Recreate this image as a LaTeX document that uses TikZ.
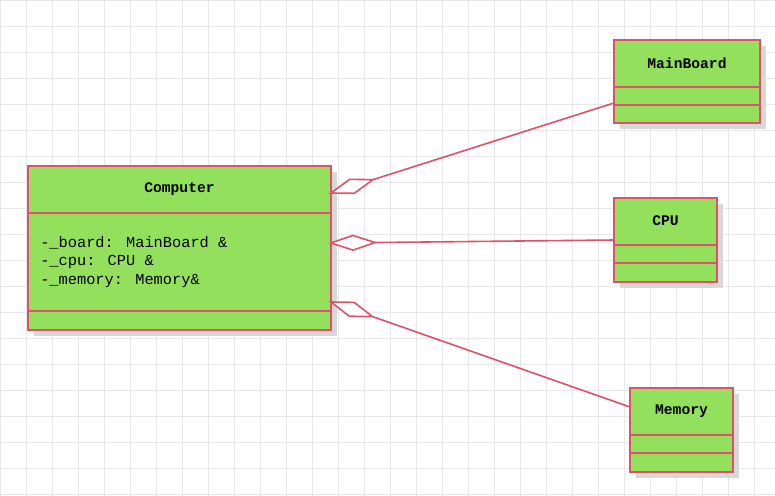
\documentclass[tikz,border=0pt]{standalone}
\usepackage{fontspec}
\setmainfont{Liberation Mono}
\usetikzlibrary{calc}
\definecolor{umlfill}{HTML}{92E05C}
\definecolor{umlline}{HTML}{E0506A}
\definecolor{gridc}{HTML}{E8E8E8}
\definecolor{shad}{HTML}{D8D8D8}
\tikzset{
  box/.style={fill=umlfill,draw=umlline,line width=1.2pt},
  shadowbox/.style={fill=shad,draw=none},
  sep/.style={draw=umlline,line width=1.2pt},
  conn/.style={draw=umlline,line width=1.2pt},
  dia/.style={draw=umlline,fill=white,line width=1.2pt,line join=miter},
  ttl/.style={font=\bfseries\fontsize{11}{13}\selectfont,inner sep=0pt},
  attr/.style={font=\fontsize{11.5}{14}\selectfont,inner sep=0pt,anchor=west,align=left}
}
\begin{document}
\begin{tikzpicture}[x=0.75pt,y=-0.75pt]
\useasboundingbox (0,0) rectangle (775,496);
\fill[white] (0,0) rectangle (775,496);
\foreach \i in {0,26,...,775} \draw[gridc,line width=0.6pt] (\i,0) -- (\i,496);
\foreach \j in {0,26,...,496} \draw[gridc,line width=0.6pt] (0,\j) -- (775,\j);
% shadows
\fill[shad] (34,172) rectangle (337,336);
\fill[shad] (620,46) rectangle (766,129);
\fill[shad] (620,204) rectangle (723,288);
\fill[shad] (636,394) rectangle (739,478);
% Computer
\draw[box] (28,166) rectangle (331,330);
\draw[sep] (28,213) -- (331,213);
\draw[sep] (28,311) -- (331,311);
\node[ttl] (comp) at (179.5,189) {Computer};
\node[attr] (compattr) at (40,262) {-\_board: MainBoard \&\\-\_cpu: CPU \&\\-\_memory: Memory\&};
% MainBoard
\draw[box] (614,40) rectangle (760,123);
\draw[sep] (614,87) -- (760,87);
\draw[sep] (614,105) -- (760,105);
\node[ttl] (mb) at (687,63) {MainBoard};
% CPU
\draw[box] (614,198) rectangle (717,282);
\draw[sep] (614,245) -- (717,245);
\draw[sep] (614,263) -- (717,263);
\node[ttl] (cpu) at (665.5,221) {CPU};
% Memory
\draw[box] (630,388) rectangle (733,472);
\draw[sep] (630,435) -- (733,435);
\draw[sep] (630,453) -- (733,453);
\node[ttl] (mem) at (681.5,411) {Memory};
% connectors
\coordinate (c1) at (331,193);
\coordinate (m1) at (614,103);
\coordinate (c2) at (331,243);
\coordinate (m2) at (614,240);
\coordinate (c3) at (331,302);
\coordinate (m3) at (630,407);
\foreach \a/\b in {c1/m1,c2/m2,c3/m3}{
  \coordinate (e) at ($(\a)!33pt!(\b)$);
  \coordinate (h) at ($(\a)!16.5pt!(\b)$);
  \draw[conn] (e) -- (\b);
  \draw[dia] (\a) -- ($(h)!5.5pt!90:(\b)$) -- (e) -- ($(h)!5.5pt!-90:(\b)$) -- cycle;
}
\end{tikzpicture}
\end{document}
